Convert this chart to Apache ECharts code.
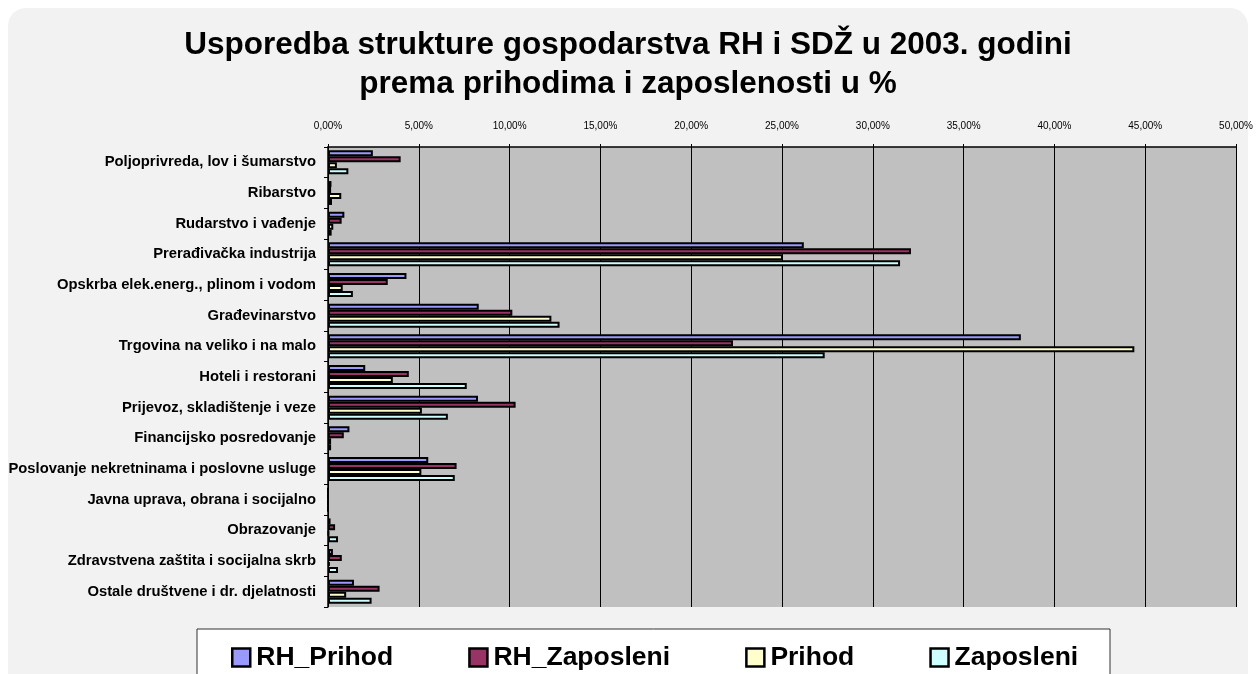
<!DOCTYPE html>
<html><head><meta charset="utf-8">
<script src="https://cdn.jsdelivr.net/npm/echarts@6/dist/echarts.min.js"></script>
<style>html,body{margin:0;padding:0;background:#fff}#c{width:1256px;height:674px}</style>
</head><body><div id="c"></div>
<script>
const categories = ["Poljoprivreda, lov i šumarstvo","Ribarstvo","Rudarstvo i vađenje","Prerađivačka industrija","Opskrba elek.energ., plinom i vodom","Građevinarstvo","Trgovina na veliko i na malo","Hoteli i restorani","Prijevoz, skladištenje i veze","Financijsko posredovanje","Poslovanje nekretninama i poslovne usluge","Javna uprava, obrana i socijalno","Obrazovanje","Zdravstvena zaštita i socijalna skrb","Ostale društvene i dr. djelatnosti"];
const rhPrihod    = [2.47,0.19,0.90,26.2,4.32,8.30,38.15,2.05,8.26,1.18,5.52,0,0.14,0.27,1.43];
const rhZaposleni = [4.00,0.17,0.75,32.1,3.29,10.15,22.3,4.45,10.33,0.87,7.08,0,0.39,0.76,2.84];
const prihod      = [0.49,0.73,0.29,25.05,0.81,12.3,44.4,3.57,5.17,0.17,5.14,0,0.05,0.10,1.00];
const zaposleni   = [1.12,0.22,0.20,31.5,1.37,12.75,27.35,7.64,6.60,0.17,6.98,0,0.55,0.55,2.40];
const seriesNames = ["RH_Prihod","RH_Zaposleni","Prihod","Zaposleni"];
const seriesColors = ["#9999FF","#993366","#FFFFCC","#CCFFFF"];
const tickValues = [0,5,10,15,20,25,30,35,40,45,50];

const chart = echarts.init(document.getElementById('c'));
const data = [rhPrihod, rhZaposleni, prihod, zaposleni];
chart.setOption({
  animation:false,
  backgroundColor:'#ffffff',
  graphic:[
    {type:'rect', z:-10, shape:{x:8,y:8,width:1240,height:700,r:18}, style:{fill:'#f2f2f2'}},
    {type:'rect', z:-5, shape:{x:197,y:629,width:913,height:60}, style:{fill:'#ffffff',stroke:'#333',lineWidth:1}}
  ],
  title:{
    text:'Usporedba strukture gospodarstva RH i SDŽ u 2003. godini\nprema prihodima i zaposlenosti u %',
    left:'center', top:21,
    textStyle:{fontFamily:'Liberation Sans',fontWeight:'bold',fontSize:31.5,lineHeight:39,color:'#000'}
  },
  legend:{
    top:639, left:226, itemGap:75, itemWidth:18, itemHeight:18,
    icon:'rect',
    itemStyle:{borderColor:'#000',borderWidth:2.5},
    textStyle:{fontFamily:'Liberation Sans',fontWeight:'bold',fontSize:26.5,color:'#000',padding:[0,0,0,1]},
    data:seriesNames
  },
  grid:{left:328,right:14,top:147,bottom:67},
  xAxis:{
    type:'value', position:'top', min:0, max:50, interval:5,
    axisLine:{show:true,lineStyle:{color:'#000',width:1.5}},
    axisTick:{show:true,length:3,lineStyle:{color:'#000'}},
    axisLabel:{fontFamily:'Liberation Sans',fontSize:10,color:'#000',margin:16,
      formatter:v=>v.toFixed(2).replace('.',',')+'%'},
    splitLine:{show:true,lineStyle:{color:'#000',width:1}}
  },
  yAxis:{
    type:'category', inverse:true, data:categories,
    axisLine:{show:true,lineStyle:{color:'#000',width:1.5}},
    axisTick:{show:true,length:4,lineStyle:{color:'#000'}},
    axisLabel:{fontFamily:'Liberation Sans',fontWeight:'bold',fontSize:14.8,color:'#000',margin:12,
      padding:[0,0,7,0]},
    splitArea:{show:true,areaStyle:{color:['#c0c0c0','#c0c0c0']}}
  },
  series: seriesNames.map((n,i)=>({
    name:n, type:'bar', data:data[i],
    barGap:'0%', barCategoryGap:'22%',
    itemStyle:{color:seriesColors[i], borderColor:'#000', borderWidth:2}
  }))
});
</script></body></html>
